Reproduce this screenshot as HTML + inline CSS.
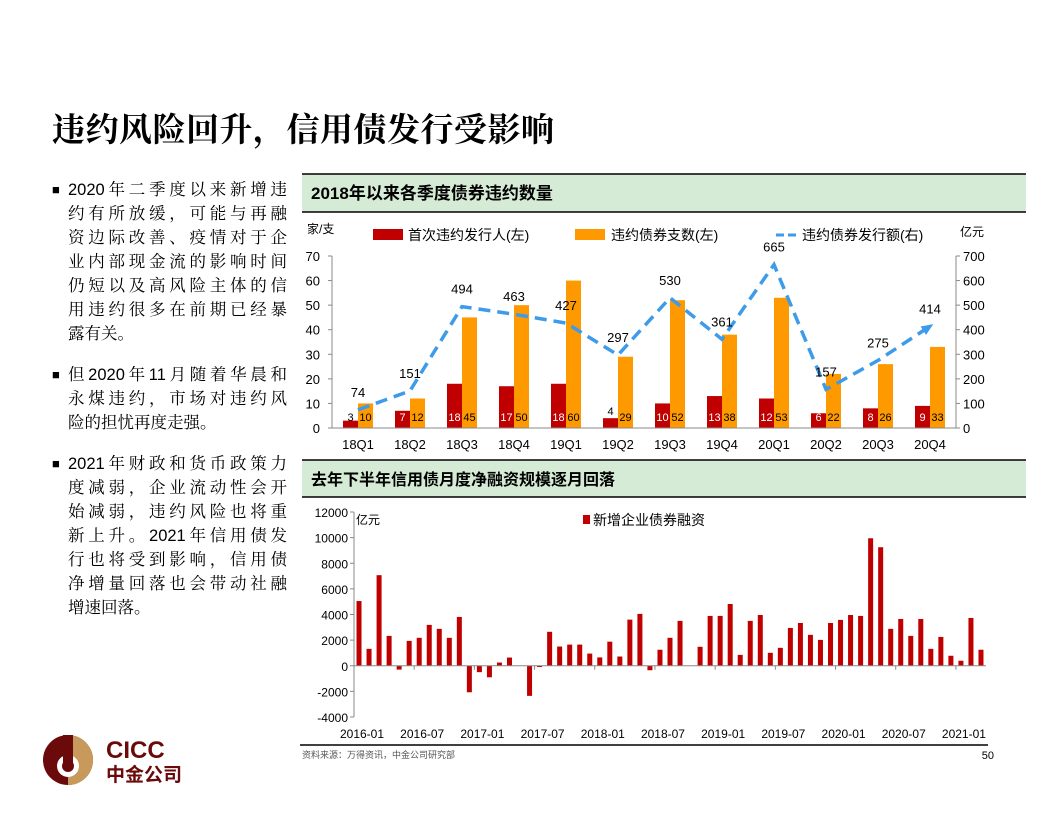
<!DOCTYPE html>
<html><head><meta charset="utf-8">
<style>
body{margin:0;background:#fff;width:1056px;height:816px;position:relative;overflow:hidden;font-family:"Liberation Sans","Noto Sans CJK SC",sans-serif}
#title{position:absolute;left:52px;top:104px;font-family:"Liberation Serif","Noto Serif CJK SC",serif;font-size:33px;font-weight:bold;letter-spacing:0.5px;color:#000;white-space:nowrap}
.txt{position:absolute;left:52px;font-family:"Liberation Sans","Noto Serif CJK SC",serif;font-size:16.5px;color:#000}
.txt .l{width:219px;margin-left:16px;height:24px;line-height:24px;text-align:justify;text-align-last:justify;white-space:nowrap}
.txt .l.last{text-align-last:left}
.txt .b{position:absolute;left:0;font-size:13px;line-height:24px}
svg{position:absolute;left:0;top:0}
</style></head><body>
<div id="title">违约风险回升，信用债发行受影响</div>

<div class="txt" style="top:178px"><span class="b">■</span>
<div class="l">2020年二季度以来新增违</div><div class="l">约有所放缓，可能与再融</div><div class="l">资边际改善、疫情对于企</div><div class="l">业内部现金流的影响时间</div><div class="l">仍短以及高风险主体的信</div><div class="l">用违约很多在前期已经暴</div><div class="l last">露有关。</div></div>
<div class="txt" style="top:363px"><span class="b">■</span>
<div class="l">但2020年11月随着华晨和</div><div class="l">永煤违约，市场对违约风</div><div class="l last">险的担忧再度走强。</div></div>
<div class="txt" style="top:452px"><span class="b">■</span>
<div class="l">2021年财政和货币政策力</div><div class="l">度减弱，企业流动性会开</div><div class="l">始减弱，违约风险也将重</div><div class="l">新上升。2021年信用债发</div><div class="l">行也将受到影响，信用债</div><div class="l">净增量回落也会带动社融</div><div class="l last">增速回落。</div></div>

<svg width="1056" height="816" id="svg" xmlns="http://www.w3.org/2000/svg" font-family="Liberation Sans, Noto Sans CJK SC, sans-serif">
<rect x="302" y="174" width="724" height="38" fill="#d6ebd5"/>
<line x1="302" y1="174" x2="1026" y2="174" stroke="#000" stroke-width="1.5"/>
<line x1="302" y1="212" x2="1026" y2="212" stroke="#000" stroke-width="1.5"/>
<text x="311" y="199" font-size="17" font-weight="bold">2018年以来各季度债券违约数量</text>
<rect x="302" y="460" width="724" height="37" fill="#d6ebd5"/>
<line x1="302" y1="460" x2="1026" y2="460" stroke="#000" stroke-width="1.5"/>
<line x1="302" y1="497" x2="1026" y2="497" stroke="#000" stroke-width="1.5"/>
<text x="311" y="485" font-size="16" font-weight="bold">去年下半年信用债月度净融资规模逐月回落</text>

<text x="307" y="233" font-size="12">家/支</text>
<text x="960" y="236" font-size="12">亿元</text>
<rect x="373" y="229" width="30" height="11" fill="#c00000"/>
<text x="408" y="240" font-size="14">首次违约发行人(左)</text>
<rect x="575" y="229" width="30" height="11" fill="#ff9900"/>
<text x="611" y="240" font-size="14">违约债券支数(左)</text>
<line x1="776" y1="235" x2="796" y2="235" stroke="#3d9be9" stroke-width="3" stroke-dasharray="8,4"/>
<text x="802" y="240" font-size="14">违约债券发行额(右)</text>

<g id="c1"></g>
<g id="c2"></g>
<line x1="300" y1="745" x2="988" y2="745" stroke="#000" stroke-width="1.5"/>
<text x="302" y="758" font-size="9" fill="#555">资料来源：万得资讯，中金公司研究部</text>
<text x="994" y="759" font-size="11" text-anchor="end">50</text>

<g>
<circle cx="68" cy="760" r="25" fill="#6b0a0a"/>
<path d="M68 735 A25 25 0 0 1 68 785 Z" fill="#c79a5c"/>
<circle cx="68" cy="766" r="11" fill="#fff"/>
<path d="M68 735 L68 766" stroke="#6b0a0a" stroke-width="10"/>
<circle cx="68" cy="766" r="6" fill="#6b0a0a"/>
<text x="106" y="758" font-size="24" font-weight="bold" fill="#6b0a0a">CICC</text>
<text x="106" y="781" font-size="19" font-weight="bold" fill="#6b0a0a">中金公司</text>
</g>
</svg>
<script>
const quarters=["18Q1","18Q2","18Q3","18Q4","19Q1","19Q2","19Q3","19Q4","20Q1","20Q2","20Q3","20Q4"];
const firstDefault=[3,7,18,17,18,4,10,13,12,6,8,9];
const bondCount=[10,12,45,50,60,29,52,38,53,22,26,33];
const amount=[74,151,494,463,427,297,530,361,665,157,275,414];
const leftTicks=[0,10,20,30,40,50,60,70];
const rightTicks=[0,100,200,300,400,500,600,700];
const months=[];
for(let y=2016;y<=2021;y++)for(let m=1;m<=12;m++){if(months.length<63)months.push(y+"-"+String(m).padStart(2,"0"));}
const financing=[5050,1320,7070,2330,-300,1940,2180,3190,2880,2180,3810,-2070,-500,-900,250,640,0,-2350,-100,2650,1500,1650,1650,950,650,1880,720,3600,4050,-350,1250,2180,3500,0,1480,3890,3890,4820,850,3500,3960,1010,1400,2950,3340,2410,2020,3340,3580,3960,3890,9950,9250,2880,3650,2330,3650,1320,2250,780,390,3730,1250];
const ticks2=[12000,10000,8000,6000,4000,2000,0,-2000,-4000];

const NS="http://www.w3.org/2000/svg";
function mk(p,t,a,txt){const e=document.createElementNS(NS,t);for(const k in a)e.setAttribute(k,a[k]);if(txt!==undefined)e.textContent=txt;p.appendChild(e);return e;}
// chart 1
const c1=document.getElementById('c1');
const L=332,R=956,B=428,T=256;
const bw=(R-L)/quarters.length;
const xc=i=>L+bw*(i+0.5);
const yl=v=>B-(v/70)*(B-T);
const yr=v=>B-(v/700)*(B-T);
leftTicks.forEach(v=>{const t=mk(c1,'text',{x:320,y:yl(v)+5,'font-size':13,'text-anchor':'end'},v);
});
rightTicks.forEach(v=>{const t=mk(c1,'text',{x:963,y:yr(v)+5,'font-size':13},v);
});
mk(c1,'line',{x1:L,y1:T,x2:L,y2:B,stroke:'#888'});
mk(c1,'line',{x1:R,y1:T,x2:R,y2:B,stroke:'#888'});
leftTicks.forEach(v=>{mk(c1,'line',{x1:L-4,y1:yl(v),x2:L,y2:yl(v),stroke:'#888'});mk(c1,'line',{x1:R,y1:yl(v),x2:R+4,y2:yl(v),stroke:'#888'});});
quarters.forEach((q,i)=>{
 const r=mk(c1,'rect',{x:xc(i)-15,y:yl(firstDefault[i]),width:15,height:B-yl(firstDefault[i]),fill:'#c00000'});
 
 const o=mk(c1,'rect',{x:xc(i),y:yl(bondCount[i]),width:15,height:B-yl(bondCount[i]),fill:'#ff9900'});
 
 const small=firstDefault[i]<5;
 const t1=mk(c1,'text',{x:xc(i)-7.5,y:firstDefault[i]<4?421:(small?yl(firstDefault[i])-3:421),'font-size':11,'text-anchor':'middle',fill:small?'#000':'#fff'},firstDefault[i]);
 
 const t2=mk(c1,'text',{x:xc(i)+7.5,y:421,'font-size':11,'text-anchor':'middle'},bondCount[i]);
 
 const tq=mk(c1,'text',{x:xc(i),y:449,'font-size':13,'text-anchor':'middle'},q);
 
});
mk(c1,'line',{x1:L,y1:B,x2:R,y2:B,stroke:'#888'});
let d=amount.map((v,i)=>(i?'L':'M')+xc(i)+' '+yr(v)).join(' ');
const ln=mk(c1,'path',{d:d,fill:'none',stroke:'#3d9be9','stroke-width':3.5,'stroke-dasharray':'12,7'});

{const n=amount.length-1,x=xc(n),y=yr(amount[n]),px=xc(n-1),py=yr(amount[n-1]);const a=Math.atan2(y-py,x-px);
 const ar=mk(c1,'path',{d:`M${x+4*Math.cos(a)} ${y+4*Math.sin(a)} L${x-8*Math.cos(a)+5*Math.sin(a)} ${y-8*Math.sin(a)-5*Math.cos(a)} L${x-8*Math.cos(a)-5*Math.sin(a)} ${y-8*Math.sin(a)+5*Math.cos(a)}Z`,fill:'#3d9be9'});
 }
amount.forEach((v,i)=>{const t=mk(c1,'text',{x:xc(i),y:yr(v)-13,'font-size':13,'text-anchor':'middle'},v);
 });

// chart 2
const c2=document.getElementById('c2');
const L2=354,R2=986,T2=512,B2=717;
const y2=v=>T2+(12000-v)/16000*(B2-T2);
const step=(R2-L2)/months.length;
const x2=i=>L2+step*(i+0.5);
ticks2.forEach(v=>{const t=mk(c2,'text',{x:348,y:y2(v)+5,'font-size':12,'text-anchor':'end'},v);
 
 mk(c2,'line',{x1:L2-4,y1:y2(v),x2:L2,y2:y2(v),stroke:'#888'});});
mk(c2,'line',{x1:L2,y1:T2,x2:L2,y2:B2,stroke:'#888'});
const u=mk(c2,'text',{x:356,y:524,'font-size':12},'亿元');
mk(c2,'rect',{x:583,y:515,width:7,height:9,fill:'#c00000'});
const lg=mk(c2,'text',{x:593,y:525,'font-size':14},'新增企业债券融资');
financing.forEach((v,i)=>{
 const r=mk(c2,'rect',{x:x2(i)-2.5,y:Math.min(y2(v),y2(0)),width:5,height:Math.abs(y2(v)-y2(0)),fill:'#c00000'});
 
 if(i%6==0){const t=mk(c2,'text',{x:x2(i)+3,y:738,'font-size':12,'text-anchor':'middle'},months[i]);
  }
 if(i%6==5)mk(c2,'line',{x1:x2(i)+step/2,y1:y2(0),x2:x2(i)+step/2,y2:y2(0)+4,stroke:'#888'});
});
mk(c2,'line',{x1:L2,y1:y2(0),x2:R2,y2:y2(0),stroke:'#888'});
</script>
</body></html>
